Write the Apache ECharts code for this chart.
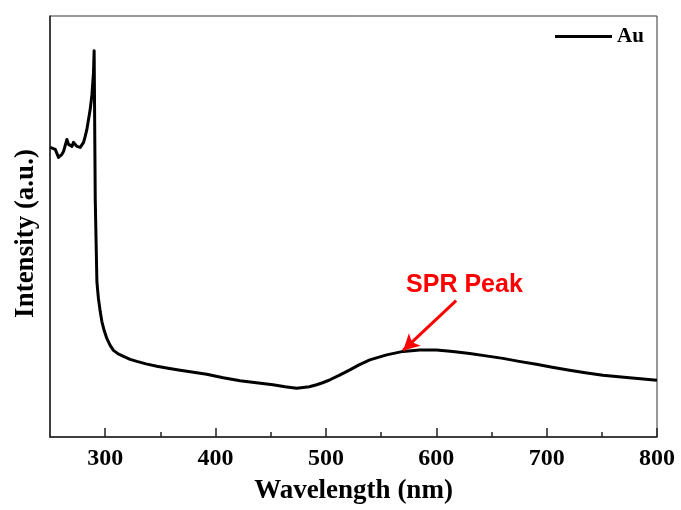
<!DOCTYPE html>
<html lang="en">
<head>
    <meta charset="UTF-8">
    <title>Au UV-Vis</title>
    <style>
        html, body { margin: 0; padding: 0; background: #fff; }
        #chart { width: 681px; height: 510px; }
    </style>
    <script src="https://cdn.jsdelivr.net/npm/echarts@6/dist/echarts.min.js"></script>
</head>
<body>
<div id="chart"></div>
<script>
    // wavelength (nm)
    var wavelength = [250.2, 254.8, 257.7, 260.8, 262.3, 265.3, 266.8, 269.9, 271.3, 274.4,
        277.4, 278.9, 280.4, 281.9, 283.4, 284.9, 286.4, 288.0, 289.4, 290.0,
        291.0, 291.9, 292.5, 293.2, 293.9, 295.5, 297.0, 299.1, 301.5, 304.5,
        307.5, 311.8, 316.6, 322.6, 328.7, 337.0, 346.8, 357.0, 367.9, 380.0,
        392.0, 407.0, 422.2, 437.0, 452.0, 463.0, 473.5, 485.0, 491.6, 497.0,
        503.6, 512.0, 521.7, 530.0, 539.8, 555.0, 570.0, 585.0, 600.2, 615.0,
        630.3, 645.0, 660.4, 675.0, 690.7, 705.0, 720.8, 735.0, 750.9, 775.0,
        800.0];
    // intensity (a.u.)
    var intensity = [2.91, 2.89, 2.81, 2.84, 2.87, 2.99, 2.94, 2.92, 2.96, 2.92,
        2.91, 2.89, 2.96, 3.02, 3.09, 3.19, 3.29, 3.44, 3.66, 3.88,
        2.39, 1.89, 1.56, 1.47, 1.39, 1.26, 1.16, 1.07, 0.99, 0.92,
        0.87, 0.835, 0.81, 0.78, 0.76, 0.735, 0.71, 0.69, 0.67, 0.65,
        0.63, 0.595, 0.565, 0.545, 0.525, 0.505, 0.49, 0.505, 0.525, 0.545,
        0.575, 0.62, 0.675, 0.725, 0.775, 0.825, 0.86, 0.875, 0.875, 0.86,
        0.84, 0.815, 0.79, 0.76, 0.73, 0.70, 0.67, 0.645, 0.62, 0.595,
        0.57];
    // tick positions
    var majorTicks = [300, 400, 500, 600, 700, 800];
    var minorTicks = [350, 450, 550, 650, 750];
    // annotation: arrow start / tip and label position (data coords)
    var arrowFrom = [618, 1.37];
    var arrowTo = [570, 0.87];
    var labelAt = [625.5, 1.53];

    var serif = '"Liberation Serif", "Times New Roman", serif';

    var points = [];
    for (var i = 0; i < wavelength.length; i++) {
        points.push([wavelength[i], intensity[i]]);
    }

    var myChart = echarts.init(document.getElementById('chart'));
    var option = {
        animation: false,
        grid: {
            left: 50, right: 24, top: 16, bottom: 71,
            show: true,
            borderColor: '#333',
            borderWidth: 1
        },
        legend: {
            left: 555, top: 26, padding: 0,
            itemWidth: 57, itemHeight: 3, itemGap: 10,
            icon: 'rect',
            textStyle: { fontFamily: serif, fontWeight: 'bold', fontSize: 21, color: '#000' },
            data: ['Au']
        },
        xAxis: [
            {
                type: 'value', min: 250, max: 800,
                name: 'Wavelength (nm)', nameLocation: 'middle', nameGap: 41,
                nameTextStyle: { fontFamily: serif, fontWeight: 'bold', fontSize: 27, color: '#000' },
                axisLine: { show: true, lineStyle: { color: '#222', width: 1.5 } },
                axisTick: { show: true, inside: true, length: 9, customValues: majorTicks,
                    lineStyle: { color: '#222', width: 1.5 } },
                axisLabel: { customValues: majorTicks, margin: 10,
                    fontFamily: serif, fontWeight: 'bold', fontSize: 24, color: '#000' },
                splitLine: { show: false }
            },
            {
                type: 'value', min: 250, max: 800, position: 'bottom',
                axisLine: { show: false },
                axisTick: { show: true, inside: true, length: 5, customValues: minorTicks,
                    lineStyle: { color: '#222', width: 1.5 } },
                axisLabel: { show: false },
                splitLine: { show: false }
            }
        ],
        yAxis: {
            type: 'value', min: 0, max: 4.23,
            name: 'Intensity (a.u.)', nameLocation: 'middle', nameGap: 10,
            nameTextStyle: { fontFamily: serif, fontWeight: 'bold', fontSize: 27, color: '#000',
                padding: [0, 14, 0, 0] },
            axisLine: { show: true, lineStyle: { color: '#222', width: 1.5 } },
            axisTick: { show: false },
            axisLabel: { show: false },
            splitLine: { show: false }
        },
        series: [
            {
                name: 'Au',
                type: 'line',
                data: points,
                showSymbol: false,
                smooth: false,
                color: '#000',
                lineStyle: { color: '#000', width: 3, join: 'round' },
                markLine: {
                    silent: true,
                    symbol: ['none', 'arrow'],
                    symbolSize: [13, 16],
                    label: { show: false },
                    lineStyle: { color: '#ff0000', width: 3, type: 'solid' },
                    data: [[{ coord: arrowFrom }, { coord: arrowTo }]]
                },
                markPoint: {
                    silent: true,
                    symbol: 'circle',
                    symbolSize: 0,
                    label: {
                        show: true, position: 'inside', formatter: 'SPR Peak',
                        fontFamily: '"Liberation Sans", Arial, sans-serif',
                        fontWeight: 'bold', fontSize: 25, color: '#ff0000'
                    },
                    data: [{ coord: labelAt }]
                }
            }
        ]
    };
    myChart.setOption(option);
</script>
</body>
</html>
